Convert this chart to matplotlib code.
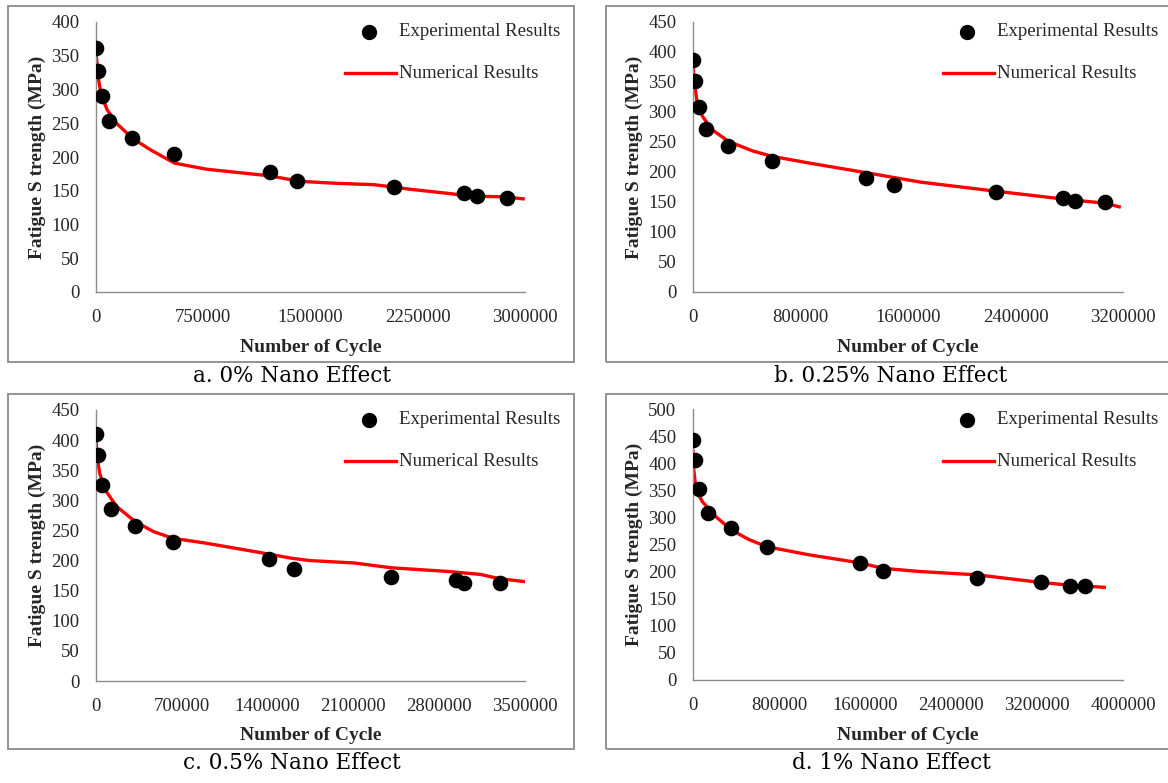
"""Fatigue strength vs. number of cycles for four nano-additive contents."""
import matplotlib

matplotlib.use("Agg")
import matplotlib.pyplot as plt  # noqa: E402
from matplotlib.lines import Line2D  # noqa: E402
from matplotlib.patches import Rectangle  # noqa: E402

W, H = 1168, 783

# ---- data -------------------------------------------------------------
# a. 0 %
exp_a_x = [0, 13000, 39000, 91000, 253000, 548000, 1218000, 1404000, 2087000, 2570000, 2666000, 2875000]
exp_a_y = [362, 327, 290, 253, 228, 204, 178, 164, 156, 147, 142, 139]
num_a_x = [0, 18000, 39000, 78000, 143000, 253000, 378000, 548000, 770000, 1218000, 1422000,
           1683000, 1944000, 2205000, 2466000, 2622000, 2857000, 2987000]
num_a_y = [355, 314, 290, 270, 250, 228, 211, 191, 182, 172, 164, 161, 159, 152, 146, 142, 141, 138]

# b. 0.25 %
exp_b_x = [0, 14000, 42000, 97000, 264000, 590000, 1285000, 1497000, 2254000, 2755000, 2843000, 3066000]
exp_b_y = [386, 352, 309, 272, 243, 218, 190, 178, 166, 157, 151, 150]
num_b_x = [0, 8000, 28000, 70000, 139000, 264000, 445000, 590000, 862000, 1285000, 1697000,
           2254000, 2755000, 3066000, 3172000]
num_b_y = [381, 353, 320, 293, 271, 251, 235, 226, 215, 199, 183, 168, 155, 148, 142]

# c. 0.5 %
exp_c_x = [0, 15000, 45000, 121000, 318000, 627000, 1415000, 1615000, 2409000, 2939000, 3006000, 3297000]
exp_c_y = [410, 375, 326, 286, 258, 230, 202, 186, 173, 168, 162, 162]
num_c_x = [0, 9000, 30000, 76000, 167000, 318000, 470000, 627000, 894000, 1348000, 1591000,
           1742000, 2106000, 2409000, 2864000, 3136000, 3288000, 3500000]
num_c_y = [403, 373, 345, 317, 290, 265, 248, 237, 229, 213, 204, 200, 196, 188, 182, 177, 170, 165]

# d. 1 %
exp_d_x = [0, 17000, 59000, 139000, 355000, 685000, 1558000, 1767000, 2643000, 3235000, 3503000, 3642000]
exp_d_y = [443, 405, 353, 308, 281, 246, 216, 201, 188, 180, 174, 174]
num_d_x = [0, 7000, 28000, 87000, 209000, 355000, 522000, 685000, 1078000, 1558000, 1767000,
           2122000, 2643000, 3235000, 3503000, 3826000]
num_d_y = [422, 388, 351, 329, 302, 277, 259, 246, 231, 216, 206, 200, 194, 180, 175, 171]

x_ticks_a = [0, 750000, 1500000, 2250000, 3000000]
x_ticks_b = [0, 800000, 1600000, 2400000, 3200000]
x_ticks_c = [0, 700000, 1400000, 2100000, 2800000, 3500000]
x_ticks_d = [0, 800000, 1600000, 2400000, 3200000, 4000000]
y_max = [400, 450, 450, 500]
captions = ["a. 0% Nano Effect", "b. 0.25% Nano Effect", "c. 0.5% Nano Effect", "d. 1% Nano Effect"]

SERIF = ["Liberation Serif", "DejaVu Serif"]
TICK_COLOR = "#262626"
AXIS_COLOR = "#8c8c8c"


def fx(px):
    return px / W


def fy(px):
    return 1 - px / H


fig = plt.figure(figsize=(W / 100, H / 100), dpi=100)

# panel geometry in pixels: frame (l, t, r, b), axes (l, t, r, b), caption centre x
panels = [
    ((8, 6, 574, 362), (96, 22, 525, 292), 292),
    ((606, 6, 1180, 362), (693, 22, 1123, 292), 891),
    ((8, 394, 574, 749), (96, 410, 525, 681), 292),
    ((606, 394, 1180, 749), (693, 409, 1123, 680), 891),
]
series = [
    (exp_a_x, exp_a_y, num_a_x, num_a_y, x_ticks_a),
    (exp_b_x, exp_b_y, num_b_x, num_b_y, x_ticks_b),
    (exp_c_x, exp_c_y, num_c_x, num_c_y, x_ticks_c),
    (exp_d_x, exp_d_y, num_d_x, num_d_y, x_ticks_d),
]

for i, ((frame, box, cap_x), (ex, ey, nx, ny, xt)) in enumerate(zip(panels, series)):
    fl, ft, fr, fb = frame
    fig.add_artist(Rectangle((fx(fl), fy(fb)), fx(fr - fl), (fb - ft) / H,
                             transform=fig.transFigure, fill=False,
                             edgecolor="#8a8a8a", linewidth=1.3))

    l, t, r, b = box
    ax = fig.add_axes([fx(l), fy(b), fx(r - l), (b - t) / H])
    ax.plot(nx, ny, color="#ff0000", linewidth=2.4, zorder=2)
    ax.scatter(ex, ey, s=105, color="black", zorder=3)

    ax.set_xlim(0, xt[-1])
    ax.set_ylim(0, y_max[i])
    ax.set_xticks(xt)
    ax.set_xticklabels([str(v) for v in xt])
    ax.set_yticks(range(0, y_max[i] + 1, 50))
    ax.tick_params(length=0, labelsize=13.5, colors=TICK_COLOR)
    ax.tick_params(axis="y", pad=12)
    ax.tick_params(axis="x", pad=12)
    for lab in ax.get_xticklabels() + ax.get_yticklabels():
        lab.set_family(SERIF)
    for side in ("top", "right"):
        ax.spines[side].set_visible(False)
    for side in ("left", "bottom"):
        ax.spines[side].set_color(AXIS_COLOR)
        ax.spines[side].set_linewidth(1.0)

    # axis titles
    fig.text(fx((l + r) / 2), fy(fb - 14), "Number of Cycle", ha="center", va="center",
             fontsize=14, fontweight="bold", family=SERIF, color="#262626")
    fig.text(fx(l - 59), fy((t + b) / 2), "Fatigue S trength (MPa)", ha="center", va="center",
             rotation=90, fontsize=14, fontweight="bold", family=SERIF, color="#262626")

    # legend (sits partly outside the plot area)
    fig.add_artist(Line2D([fx(fl + 361)], [fy(ft + 26)], marker="o", markersize=10,
                          color="black", linestyle="none", transform=fig.transFigure))
    fig.text(fx(fl + 391), fy(ft + 26), "Experimental Results", ha="left", va="center",
             fontsize=13.5, family=SERIF, color=TICK_COLOR)
    fig.add_artist(Line2D([fx(fl + 337), fx(fl + 388)], [fy(ft + 67), fy(ft + 67)],
                          color="#ff0000", linewidth=2.4, transform=fig.transFigure))
    fig.text(fx(fl + 391), fy(ft + 67), "Numerical Results", ha="left", va="center",
             fontsize=13.5, family=SERIF, color=TICK_COLOR)

    # caption under the frame
    fig.text(fx(cap_x), fy(fb + 14), captions[i], ha="center", va="center",
             fontsize=15.5, family=["DejaVu Serif"], color="black")

fig.savefig("out.png", dpi=100)
plt.close(fig)
